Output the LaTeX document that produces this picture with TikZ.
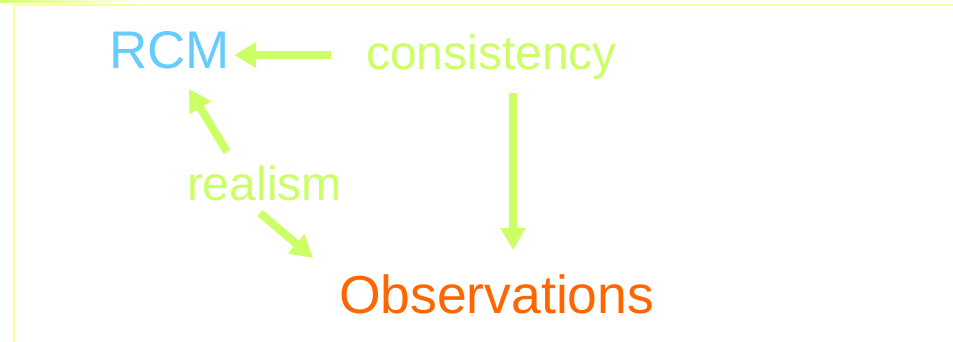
\documentclass[tikz,border=0pt]{standalone}
\usepackage{fontspec}
\setmainfont{Liberation Sans}
\usetikzlibrary{arrows.meta}
\definecolor{rcmblue}{HTML}{66CCFF}
\definecolor{lgreen}{HTML}{CCFF66}
\definecolor{obsorange}{HTML}{FF6600}
\definecolor{frameyellow}{HTML}{FFFF99}
\definecolor{glow}{HTML}{D8FF70}
\tikzset{
  lbl/.style={anchor=base west, inner sep=0pt, outer sep=0pt},
  rcmfont/.style={font=\fontsize{53}{60}\selectfont},
  obsfont/.style={font=\fontsize{53.5}{60}\selectfont},
  midfont/.style={font=\fontsize{48}{55}\selectfont},
  fatarrow/.style={draw=lgreen, line width=8pt,
    -{Triangle[length=22pt,width=24pt]}, color=lgreen}
}
\begin{document}
\begin{tikzpicture}[x=1pt,y=-1pt]
\useasboundingbox (0,0) rectangle (953,342);
\fill[white] (0,0) rectangle (953,342);
\shade[left color=glow, right color=white] (0,0) rectangle (140,3);
\draw[frameyellow, line width=2pt] (953,5) -- (13.5,5) -- (13.5,342);
\node[lbl, rcmfont, text=rcmblue] (rcm) at (109,69) {RCM};
\node[lbl, midfont, text=lgreen] (cons) at (366,70) {consistency};
\node[lbl, midfont, text=lgreen] (real) at (187,200) {realism};
\node[lbl, obsfont, text=obsorange] (obs) at (339,313) {Observations};
\coordinate (c1) at (331,55);
\coordinate (r1) at (234,55);
\coordinate (c2) at (513,93);
\coordinate (o1) at (513,250);
\coordinate (re1) at (227,152);
\coordinate (r2) at (189,89);
\coordinate (re2) at (260,213);
\coordinate (o2) at (313,258);
\draw[fatarrow] (c1) -- (r1);
\draw[fatarrow] (c2) -- (o1);
\draw[fatarrow] (re1) -- (r2);
\draw[fatarrow] (re2) -- (o2);
\end{tikzpicture}
\end{document}
